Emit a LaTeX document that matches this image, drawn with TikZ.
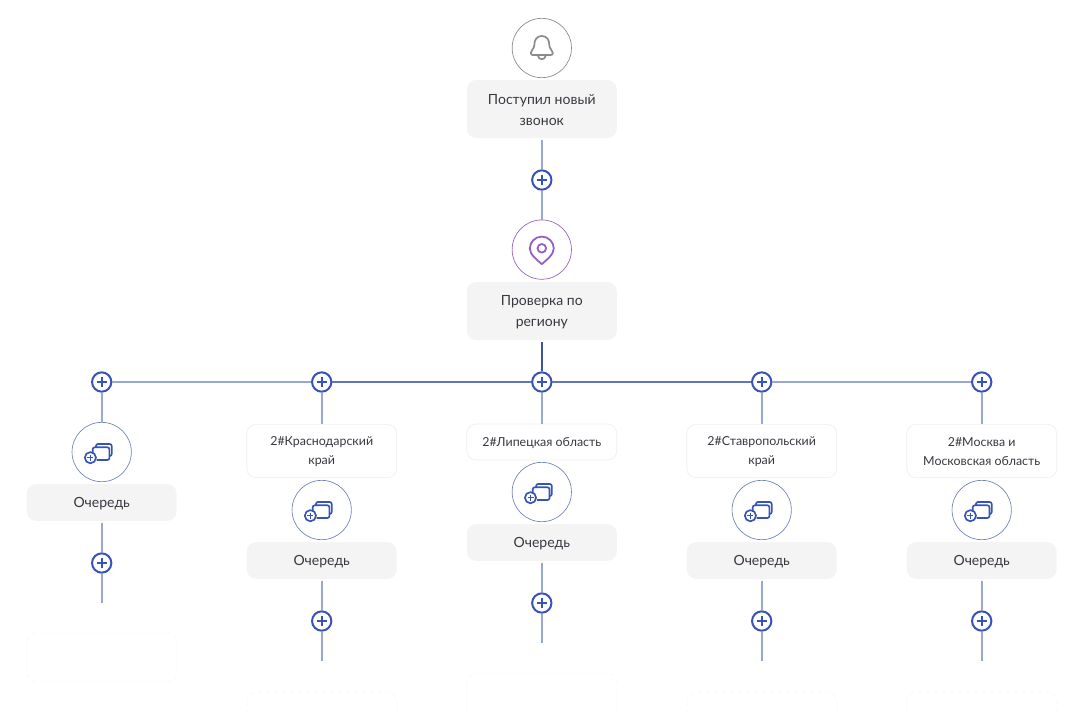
\documentclass[tikz,border=0pt]{standalone}
\usepackage{fontspec}
\setmainfont{Lato}
\definecolor{conn}{HTML}{98A8D0}
\definecolor{conndark}{HTML}{5F77B5}
\definecolor{connmain}{HTML}{3F5599}
\definecolor{plusc}{HTML}{3853B8}
\definecolor{cardbg}{HTML}{F4F4F4}
\definecolor{labline}{HTML}{EFEFEF}
\definecolor{ghost}{HTML}{F7F7F7}
\definecolor{txt}{HTML}{3A3740}
\definecolor{grayi}{HTML}{8A8A8A}
\definecolor{purp}{HTML}{9460C4}
\definecolor{qring}{HTML}{6F82B8}
\tikzset{
 x=0.75pt,y=-0.75pt,
 conline/.style={draw=conn,line width=1.5pt},
 darkline/.style={draw=conndark,line width=1.5pt},
 mainline/.style={draw=connmain,line width=1.5pt},
 plusnode/.style={circle,draw=plusc,fill=white,line width=1.5pt,minimum size=14.5pt,inner sep=0pt,
   path picture={\draw[plusc,line width=1.4pt] ([xshift=-3.9pt]path picture bounding box.center)--([xshift=3.9pt]path picture bounding box.center) ([yshift=-3.9pt]path picture bounding box.center)--([yshift=3.9pt]path picture bounding box.center);}},
 iconcircle/.style={circle,draw=#1,fill=white,line width=0.5pt,minimum size=44.5pt,inner sep=0pt},
 cardtext/.style={yshift=-0.75pt,inner sep=0pt,align=center,text=txt,font=\fontsize{10.5}{15.6}\selectfont},
 labtext/.style={yshift=-0.75pt,inner sep=0pt,align=center,text=txt,font=\fontsize{9.3}{14.2}\selectfont},
 card/.style={rounded corners=7pt,fill=cardbg,draw=none,minimum width=112.5pt,inner sep=0pt,label={[cardtext]center:#1}},
 labelcard/.style={rounded corners=7pt,fill=white,draw=labline,line width=0.5pt,minimum width=112.5pt,inner sep=0pt,label={[labtext]center:#1}},
 ghostbox/.style={rounded corners=7pt,draw=ghost,dashed,line width=0.5pt},
}
\newcommand{\queueicon}[2]{% x,y = circle centre
 \begin{scope}[shift={(#1,#2)},line width=1.25pt,plusc,line join=round]
  \draw[rounded corners=1.5pt] (-5.7,-4.7) -- (-5.7,-8) -- (10,-8) -- (10,4) -- (7.7,4);
  \draw[rounded corners=1.5pt] (-9,1) -- (-9,-4.7) -- (7.7,-4.7) -- (7.7,8) -- (-5,8);
  \draw[fill=white] (-11.3,5.7) circle (5.6);
  \draw[line width=1.15pt] (-14.3,5.7) -- (-8.3,5.7) (-11.3,2.7) -- (-11.3,8.7);
 \end{scope}}
\begin{document}
\begin{tikzpicture}
\useasboundingbox (0,0) rectangle (1087,711);
% ghost boxes
\draw[ghostbox] (27,633) rectangle (177,682);
\draw[ghostbox] (247,692) rectangle (397,740);
\draw[ghostbox] (467,673) rectangle (617,740);
\draw[ghostbox] (687,692) rectangle (837,740);
\draw[ghostbox] (907,692) rectangle (1057,740);
% nodes
\node[iconcircle=grayi] (bell) at (541.8,48) {};
\node[card={Поступил новый\\звонок},minimum height=43.5pt] (c0) at (541.8,109) {};
\node[plusnode] (p0) at (541.8,180) {};
\node[iconcircle=purp] (pin) at (541.8,249.6) {};
\node[card={Проверка по\\региону},minimum height=43.5pt] (c1) at (541.8,311) {};
\node[plusnode] (hA) at (101.7,382) {};
\node[plusnode] (hB) at (321.7,382) {};
\node[plusnode] (hC) at (541.8,382) {};
\node[plusnode] (hD) at (761.7,382) {};
\node[plusnode] (hE) at (981.7,382) {};
% col A
\node[iconcircle=qring] (qA) at (101.7,452) {};
\node[card={Очередь},minimum height=27.5pt] (cA) at (101.7,502.5) {};
\node[plusnode] (pA) at (101.7,563) {};
\coordinate (eA) at (101.7,603);
% col B
\node[labelcard={2\#Краснодарский\\край},minimum height=40pt] (lB) at (321.7,451) {};
\node[iconcircle=qring] (qB) at (321.7,510) {};
\node[card={Очередь},minimum height=27.5pt] (cB) at (321.7,560.5) {};
\node[plusnode] (pB) at (321.7,621) {};
\coordinate (eB) at (321.7,661);
% col C
\node[labelcard={2\#Липецкая область},minimum height=27pt] (lC) at (541.8,442) {};
\node[iconcircle=qring] (qC) at (541.8,492) {};
\node[card={Очередь},minimum height=27.5pt] (cC) at (541.8,542.5) {};
\node[plusnode] (pC) at (541.8,603) {};
\coordinate (eC) at (541.8,643);
% col D
\node[labelcard={2\#Ставропольский\\край},minimum height=40pt] (lD) at (761.7,451) {};
\node[iconcircle=qring] (qD) at (761.7,510) {};
\node[card={Очередь},minimum height=27.5pt] (cD) at (761.7,560.5) {};
\node[plusnode] (pD) at (761.7,621) {};
\coordinate (eD) at (761.7,661);
% col E
\node[labelcard={2\#Москва и\\Московская область},minimum height=40pt] (lE) at (981.7,451) {};
\node[iconcircle=qring] (qE) at (981.7,510) {};
\node[card={Очередь},minimum height=27.5pt] (cE) at (981.7,560.5) {};
\node[plusnode] (pE) at (981.7,621) {};
\coordinate (eE) at (981.7,661);
% connectors
\draw[conline,shorten <=1.5pt] (c0.south) -- (p0.north);
\draw[conline] (p0.south) -- (pin.north);
\draw[mainline,shorten <=1.5pt] (c1.south) -- (hC.north);
\draw[conline] (hA.east) -- (hB.west);
\draw[darkline] (hB.east) -- (hC.west);
\draw[darkline] (hC.east) -- (hD.west);
\draw[conline] (hD.east) -- (hE.west);
\draw[conline] (hA.south) -- (qA.north);
\draw[conline] (hB.south) -- (lB.north);
\draw[conline] (hC.south) -- (lC.north);
\draw[conline] (hD.south) -- (lD.north);
\draw[conline] (hE.south) -- (lE.north);
\draw[conline,shorten <=1.5pt] (cA.south) -- (pA.north);
\draw[conline] (pA.south) -- (eA);
\draw[conline,shorten <=1.5pt] (cB.south) -- (pB.north);
\draw[conline] (pB.south) -- (eB);
\draw[conline,shorten <=1.5pt] (cC.south) -- (pC.north);
\draw[conline] (pC.south) -- (eC);
\draw[conline,shorten <=1.5pt] (cD.south) -- (pD.north);
\draw[conline] (pD.south) -- (eD);
\draw[conline,shorten <=1.5pt] (cE.south) -- (pE.north);
\draw[conline] (pE.south) -- (eE);
% icons
\begin{scope}[shift={(541.8,48)},grayi,line width=1.25pt,line join=round,line cap=round]
 \draw (0,-12) .. controls (5,-12) and (7.5,-8) .. (7.5,-3) .. controls (7.5,1) and (11,2) .. (11,5) .. controls (11,6.5) and (10,7) .. (9,7) -- (-9,7) .. controls (-10,7) and (-11,6.5) .. (-11,5) .. controls (-11,2) and (-7.5,1) .. (-7.5,-3) .. controls (-7.5,-8) and (-5,-12) .. (0,-12) -- cycle;
 \draw (-4,7.5) .. controls (-3,12.5) and (3,12.5) .. (4,7.5);
\end{scope}
\begin{scope}[shift={(541.8,249.6)},purp,line width=1.35pt,line join=round]
 \draw (-12,-1) .. controls (-12,-7.6) and (-6.6,-13) .. (0,-13) .. controls (6.6,-13) and (12,-7.6) .. (12,-1) .. controls (12,5) and (4,11) .. (0,14.5) .. controls (-4,11) and (-12,5) .. (-12,-1) -- cycle;
 \draw (0,-1.3) circle (4.3);
\end{scope}
\queueicon{101.7}{452}
\queueicon{321.7}{510}
\queueicon{541.8}{492}
\queueicon{761.7}{510}
\queueicon{981.7}{510}
\end{tikzpicture}
\end{document}
